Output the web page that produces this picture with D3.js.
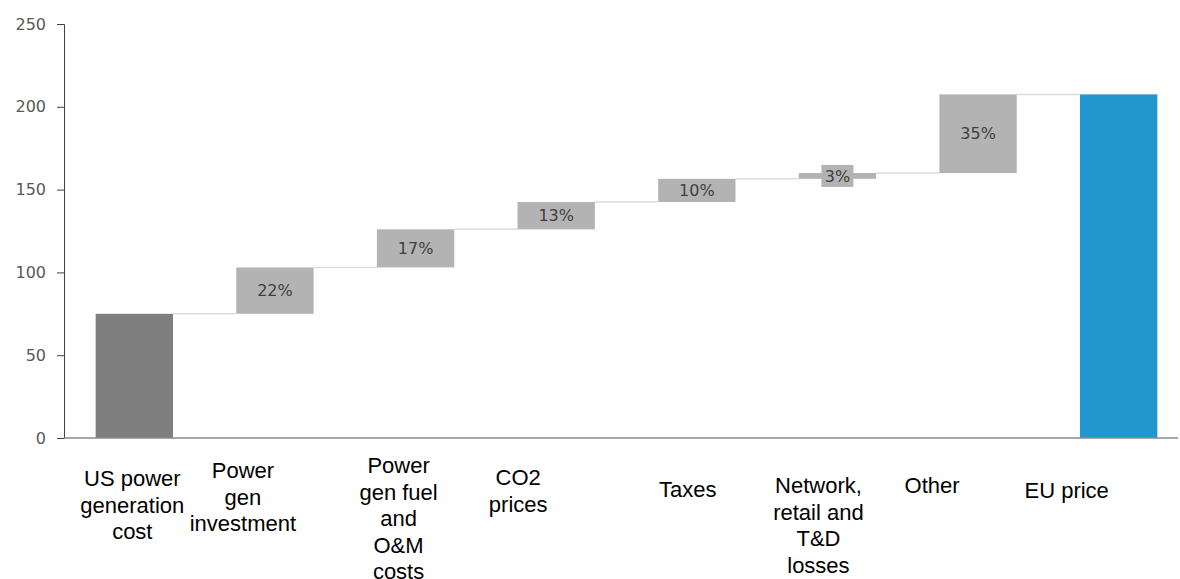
<!DOCTYPE html>
<html>
<head>
<meta charset="utf-8">
<script src="https://cdn.jsdelivr.net/npm/d3@7"></script>
<style>
  body { margin: 0; background: #fff; }
  svg { display: block; }
</style>
</head>
<body>
<div class="canvas"></div>
<script>
// data
const categories = [
    'US power generation cost',
    'Power gen investment',
    'Power gen fuel and O&M costs',
    'CO2 prices',
    'Taxes',
    'Network, retail and T&D losses',
    'Other',
    'EU price'
];
// lines as printed under each bar
const categoryLines = [
    ['US power', 'generation', 'cost'],
    ['Power', 'gen', 'investment'],
    ['Power', 'gen fuel', 'and', 'O&M', 'costs'],
    ['CO2', 'prices'],
    ['Taxes'],
    ['Network,', 'retail and', 'T&D', 'losses'],
    ['Other'],
    ['EU price']
];
const startValue = 75;
const steps = [28, 23, 16.5, 14, 3.5, 47.5];
const stepLabels = ['22%', '17%', '13%', '10%', '3%', '35%'];
const yTicks = [0, 50, 100, 150, 200, 250];

// layout of the category text boxes (offset from bar centre, first baseline)
const LABEL_LAYOUT = [
    { dx: -2, y: 486 },
    { dx: -32, y: 478 },
    { dx: -17, y: 473 },
    { dx: -38, y: 485 },
    { dx: -9, y: 497 },
    { dx: -19, y: 493 },
    { dx: -46, y: 493 },
    { dx: -52, y: 498 }
];

const WIDTH = 1180;
const HEIGHT = 579;
const plot = { left: 64, right: 1189, top: 24, bottom: 438 };

const svg = d3.select('.canvas')
    .append('svg')
    .attr('width', WIDTH)
    .attr('height', HEIGHT);

const x = d3.scaleBand()
    .domain(categories)
    .range([plot.left, plot.right])
    .paddingInner(0.45)
    .paddingOuter(0.225);

const y = d3.scaleLinear()
    .domain([0, 250])
    .range([plot.bottom, plot.top]);

// build waterfall segments
const segs = [];
let level = startValue;
segs.push({ cat: categories[0], y0: 0, y1: startValue, kind: 'start' });
steps.forEach((s, i) => {
    segs.push({ cat: categories[i + 1], y0: level, y1: level + s, kind: 'step', label: stepLabels[i] });
    level += s;
});
segs.push({ cat: categories[categories.length - 1], y0: 0, y1: level, kind: 'end' });

const fillFor = d => d.kind === 'start' ? '#7f7f7f' : d.kind === 'end' ? '#2196cf' : '#b3b3b3';

// connectors
const conn = svg.append('g');
segs.slice(0, -1).forEach((d, i) => {
    const next = segs[i + 1];
    conn.append('line')
        .attr('x1', x(d.cat) + x.bandwidth())
        .attr('x2', x(next.cat))
        .attr('y1', y(d.y1))
        .attr('y2', y(d.y1))
        .attr('stroke', '#dcdcdc')
        .attr('stroke-width', 1.5);
});

// bars
svg.append('g')
    .selectAll('rect')
    .data(segs)
    .enter()
    .append('rect')
    .attr('x', d => x(d.cat))
    .attr('width', x.bandwidth())
    .attr('y', d => y(d.y1))
    .attr('height', d => y(d.y0) - y(d.y1))
    .attr('fill', fillFor);

// step labels with grey box behind
const lab = svg.append('g')
    .selectAll('g')
    .data(segs.filter(d => d.kind === 'step'))
    .enter()
    .append('g')
    .attr('transform', d => `translate(${x(d.cat) + x.bandwidth() / 2}, ${y((d.y0 + d.y1) / 2)})`);

lab.append('rect')
    .attr('x', -16)
    .attr('y', -11)
    .attr('width', 32)
    .attr('height', 22)
    .attr('fill', '#b3b3b3');

lab.append('text')
    .attr('text-anchor', 'middle')
    .attr('dy', '0.36em')
    .attr('font-family', 'DejaVu Sans, sans-serif')
    .attr('font-size', 16)
    .attr('fill', '#404040')
    .text(d => d.label);

// y axis
const yAxis = svg.append('g')
    .attr('transform', `translate(${plot.left},0)`)
    .call(d3.axisLeft(y).tickValues(yTicks).tickSize(7).tickPadding(11));
yAxis.select('.domain').attr('stroke', '#404040');
yAxis.selectAll('.tick line').attr('stroke', '#404040');
yAxis.selectAll('.tick text')
    .attr('font-family', 'DejaVu Sans, sans-serif')
    .attr('font-size', 16)
    .attr('fill', '#595959');

// x axis line
svg.append('line')
    .attr('x1', plot.left)
    .attr('x2', WIDTH - 2)
    .attr('y1', y(0))
    .attr('y2', y(0))
    .attr('stroke', '#8a8a8a')
    .attr('stroke-width', 1.5);

// category labels
const catG = svg.append('g');
categories.forEach((c, i) => {
    const cx = x(c) + x.bandwidth() / 2 + LABEL_LAYOUT[i].dx;
    const t = catG.append('text')
        .attr('text-anchor', 'middle')
        .attr('font-family', 'Liberation Sans, Arial, sans-serif')
        .attr('font-size', 22)
        .attr('fill', '#000')
        .attr('x', cx)
        .attr('y', LABEL_LAYOUT[i].y);
    categoryLines[i].forEach((ln, j) => {
        t.append('tspan')
            .attr('x', cx)
            .attr('dy', j === 0 ? 0 : 26.5)
            .text(ln);
    });
});
</script>
</body>
</html>
